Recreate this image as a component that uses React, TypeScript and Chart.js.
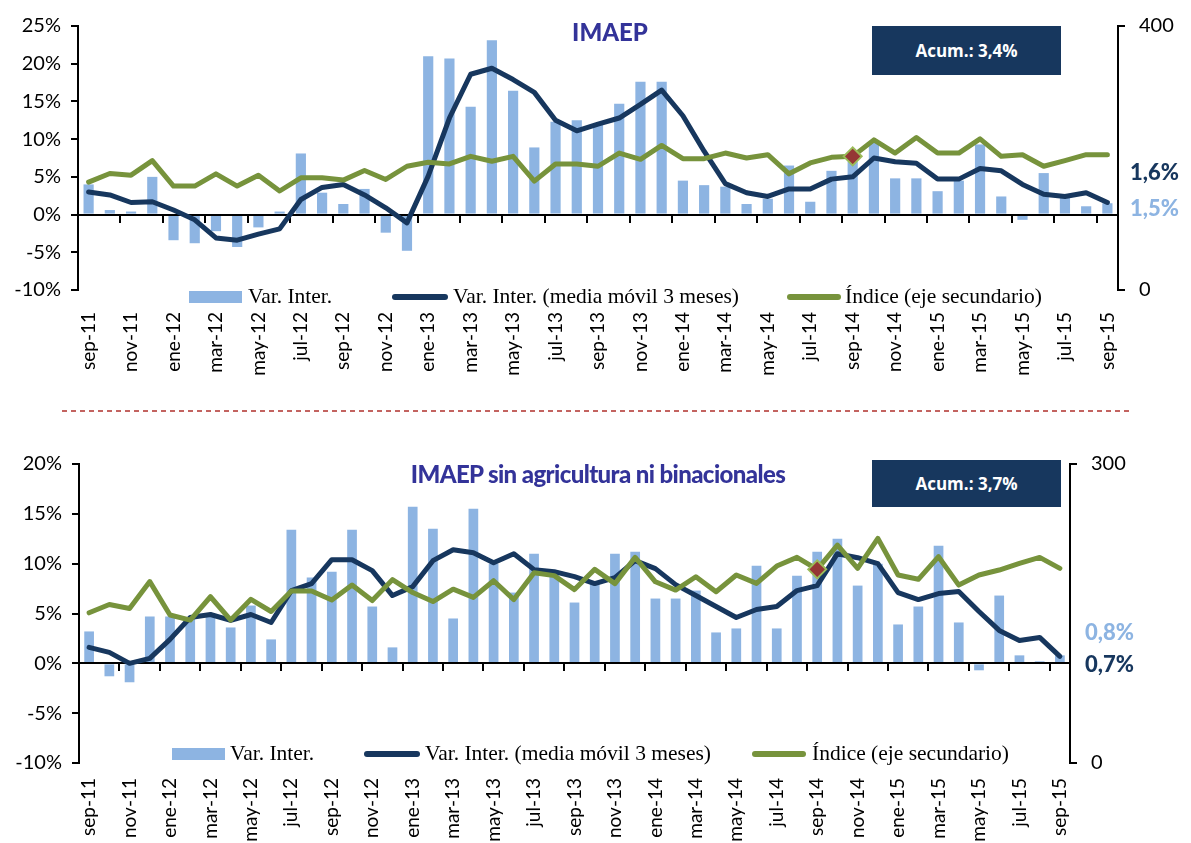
import React, { useEffect, useRef } from "react";
import { Chart, registerables } from "chart.js";
Chart.register(...registerables);

// ---------- DATA ----------
const months = [
  "sep-11","oct-11","nov-11","dic-11",
  "ene-12","feb-12","mar-12","abr-12","may-12","jun-12","jul-12","ago-12","sep-12","oct-12","nov-12","dic-12",
  "ene-13","feb-13","mar-13","abr-13","may-13","jun-13","jul-13","ago-13","sep-13","oct-13","nov-13","dic-13",
  "ene-14","feb-14","mar-14","abr-14","may-14","jun-14","jul-14","ago-14","sep-14","oct-14","nov-14","dic-14",
  "ene-15","feb-15","mar-15","abr-15","may-15","jun-15","jul-15","ago-15","sep-15",
];

// IMAEP
const imaepVar = [4.0,0.6,0.4,5.0,-3.4,-3.8,-2.2,-4.3,-1.7,0.4,8.1,2.9,1.4,3.4,-2.4,-4.8,21.0,20.7,14.3,23.1,16.4,8.9,12.3,12.5,12.0,14.7,17.6,17.6,4.5,3.9,3.7,1.4,2.1,6.5,1.7,5.8,7.0,9.6,4.8,4.8,3.1,4.5,9.3,2.4,-0.7,5.5,2.3,1.1,1.5];
const imaepMA = [3.0,2.6,1.6,1.7,0.6,-0.7,-3.1,-3.4,-2.6,-1.9,2.0,3.6,4.0,2.6,0.9,-1.1,5.1,12.8,18.6,19.4,17.9,16.2,12.5,11.1,12.0,12.8,14.6,16.5,13.1,8.4,4.1,2.9,2.4,3.4,3.4,4.7,5.0,7.5,7.0,6.8,4.7,4.7,6.1,5.8,4.0,2.7,2.4,2.9,1.6];
const imaepIdx = [163.5,176.5,174,196,157.5,157.5,176,157.5,174,150,170,170,166.5,181,167.5,187.5,193.5,191,202.5,195,202.5,165,191,191,187.5,207.5,198,219,199,199,207.5,200,205,176,192.5,201,202.5,227.5,207.5,231,207.5,207.5,229,202.5,205,187.5,196,205,205];

// IMAEP sin agricultura ni binacionales
const sinAgrVar = [3.2,-1.3,-1.9,4.7,4.7,4.6,4.7,3.6,5.8,2.4,13.4,8.6,9.2,13.4,5.7,1.6,15.7,13.5,4.5,15.5,10.0,7.1,11.0,9.2,6.1,8.0,11.0,11.2,6.5,6.5,7.3,3.1,3.5,9.8,3.5,8.8,11.2,12.5,7.8,10.0,3.9,5.7,11.8,4.1,-0.7,6.8,0.8,0.2,0.8];
const sinAgrMA = [1.6,1.1,0.0,0.5,2.4,4.6,4.9,4.3,4.9,4.1,7.3,8.0,10.4,10.4,9.3,6.8,7.7,10.3,11.4,11.1,10.1,11.0,9.4,9.2,8.7,8.0,8.6,10.3,9.5,7.9,6.8,5.7,4.6,5.4,5.7,7.3,7.8,11.0,10.6,10.0,7.1,6.4,7.0,7.2,5.2,3.3,2.3,2.6,0.7];
const sinAgrIdx = [150.7,159,155,182,148.5,143.4,166.8,143.4,164.2,152,172.6,172.6,163.5,178.5,163,184,171,162,174.4,166.2,182.9,164,190.9,188,174,194.3,180,206.3,181.8,173.5,186.9,171.8,188.6,180.2,197.6,206.3,194.3,218.7,195.3,225.4,188.6,184.3,207,178.5,188.6,193.6,200.3,206.3,195.3];

const highlightIndex = 36; // sep-14

const legendLabels = ["Var. Inter.", "Var. Inter. (media móvil 3 meses)", "Índice (eje secundario)"];

// ---------- STYLE ----------
const BAR = "#8db4e2";
const NAVY = "#17375e";
const GREEN = "#77933c";
const TITLE = "#333399";
const TICK_FONT = "Lato";

type Panel = {
  bars: number[];
  ma: number[];
  idx: number[];
  yMin: number;
  yMax: number;
  y2Max: number;
  height: number;
  padTop: number;
  leftW: number;
  rightW: number;
  xH: number;
  xPad: number;
};

function buildChart(canvas: HTMLCanvasElement, p: Panel) {
  const n = months.length;
  const axisPlugin = {
    id: "zeroAxis",
    afterDatasetDraw(chart: any, args: any) {
      if (args.index !== 0) return;
      const { ctx } = chart;
      const x = chart.scales.x;
      const y = chart.scales.y;
      const y0 = Math.round(y.getPixelForValue(0));
      ctx.save();
      ctx.strokeStyle = "#000";
      ctx.lineWidth = 2;
      ctx.beginPath();
      ctx.moveTo(x.left, y0);
      ctx.lineTo(x.right, y0);
      for (let k = 2; k < n; k += 2) {
        const px = Math.round(x.getPixelForValue(k - 0.5));
        ctx.moveTo(px, y0);
        ctx.lineTo(px, y0 + 8);
      }
      ctx.stroke();
      ctx.restore();
    },
  };

  return new Chart(canvas, {
    type: "bar",
    data: {
      labels: months,
      datasets: [
        {
          type: "bar",
          label: legendLabels[0],
          data: p.bars,
          backgroundColor: BAR,
          yAxisID: "y",
          order: 3,
          barPercentage: 0.48,
          categoryPercentage: 1,
        } as any,
        {
          type: "line",
          label: legendLabels[1],
          data: p.ma,
          borderColor: NAVY,
          borderWidth: 5,
          pointRadius: 0,
          tension: 0,
          borderJoinStyle: "round",
          borderCapStyle: "round",
          yAxisID: "y",
          order: 2,
        },
        {
          type: "line",
          label: legendLabels[2],
          data: p.idx,
          borderColor: GREEN,
          borderWidth: 5,
          tension: 0,
          borderJoinStyle: "round",
          borderCapStyle: "round",
          pointStyle: "rectRot",
          pointRadius: (c: any) => (c.dataIndex === highlightIndex ? 9 : 0),
          pointBackgroundColor: "#953735",
          pointBorderColor: "#9bbb59",
          pointBorderWidth: 2,
          yAxisID: "y2",
          order: 1,
        },
      ],
    },
    options: {
      responsive: false,
      animation: false,
      layout: { padding: { top: p.padTop, left: 0, right: 0, bottom: 0 } },
      plugins: { legend: { display: false }, tooltip: { enabled: false } },
      scales: {
        x: {
          type: "category",
          offset: true,
          grid: { display: false, drawTicks: false },
          border: { display: false },
          ticks: {
            autoSkip: false,
            maxRotation: 90,
            minRotation: 90,
            padding: p.xPad,
            color: "#000",
            font: { family: TICK_FONT, size: 19 },
            callback: (_v: any, i: number) => (i % 2 === 0 ? months[i] : ""),
          },
          afterFit: (s: any) => {
            s.height = p.xH;
          },
        },
        y: {
          position: "left",
          min: p.yMin,
          max: p.yMax,
          grid: { drawOnChartArea: false, drawTicks: true, tickLength: 7, color: "#000", lineWidth: 2 },
          border: { color: "#000", width: 2 },
          ticks: {
            stepSize: 5,
            padding: 10,
            color: "#000",
            font: { family: TICK_FONT, size: 20 },
            callback: (v: any) => v + "%",
          },
          afterFit: (s: any) => {
            s.width = p.leftW;
          },
        },
        y2: {
          position: "right",
          min: 0,
          max: p.y2Max,
          grid: { drawOnChartArea: false, drawTicks: true, tickLength: 7, color: "#000", lineWidth: 2 },
          border: { color: "#000", width: 2 },
          ticks: {
            stepSize: p.y2Max,
            padding: 14,
            color: "#000",
            font: { family: TICK_FONT, size: 20 },
          },
          afterFit: (s: any) => {
            s.width = p.rightW;
          },
        },
      },
    },
    plugins: [axisPlugin],
  } as any);
}

function ChartCanvas({ top, p }: { top: number; p: Panel }) {
  const ref = useRef<HTMLCanvasElement>(null);
  useEffect(() => {
    const c = buildChart(ref.current!, p);
    return () => c.destroy();
  }, []);
  return (
    <canvas
      ref={ref}
      width={1191}
      height={p.height}
      style={{ position: "absolute", left: 0, top, width: 1191, height: p.height, display: "block" }}
    />
  );
}

const abs = (x: number, cy: number, extra: React.CSSProperties = {}): React.CSSProperties => ({
  position: "absolute",
  left: x,
  top: cy,
  transform: "translateY(-50%)",
  whiteSpace: "nowrap",
  lineHeight: 1,
  ...extra,
});

function Legend({ cy, boxX, t1, l2, t2, l3, t3 }: { cy: number; boxX: number; t1: number; l2: number; t2: number; l3: number; t3: number }) {
  const txt: React.CSSProperties = { fontFamily: "'Liberation Serif', serif", fontSize: 21.5, color: "#000" };
  return (
    <>
      <div style={{ position: "absolute", left: boxX, top: cy - 6, width: 53, height: 12, background: BAR }} />
      <div style={abs(t1, cy, txt)}>{legendLabels[0]}</div>
      <div style={{ position: "absolute", left: l2, top: cy - 3, width: 56, height: 6, borderRadius: 3, background: NAVY }} />
      <div style={abs(t2, cy, txt)}>{legendLabels[1]}</div>
      <div style={{ position: "absolute", left: l3, top: cy - 3, width: 54, height: 6, borderRadius: 3, background: GREEN }} />
      <div style={abs(t3, cy, txt)}>{legendLabels[2]}</div>
    </>
  );
}

export default function App() {
  const topPanel: Panel = {
    bars: imaepVar, ma: imaepMA, idx: imaepIdx,
    yMin: -10, yMax: 25, y2Max: 400,
    height: 400, padTop: 23, leftW: 78, rightW: 1191 - 1118, xH: 110, xPad: 22,
  };
  const botPanel: Panel = {
    bars: sinAgrVar, ma: sinAgrMA, idx: sinAgrIdx,
    yMin: -10, yMax: 20, y2Max: 300,
    height: 423, padTop: 44, leftW: 79, rightW: 1191 - 1070, xH: 80, xPad: 15,
  };
  const titleStyle: React.CSSProperties = { fontFamily: "Lato", fontWeight: 900, fontSize: 24, color: TITLE };
  const boxStyle: React.CSSProperties = {
    position: "absolute", background: NAVY, color: "#fff", fontFamily: "'Open Sans'", fontWeight: 700, fontSize: 17,
    display: "flex", alignItems: "center", justifyContent: "center",
  };
  const endLbl: React.CSSProperties = { fontFamily: "Lato", fontWeight: 900, fontSize: 22 };
  return (
    <div style={{ position: "absolute", left: 0, top: 0, width: 1191, height: 843, background: "#fff", overflow: "hidden" }}>
      <ChartCanvas top={0} p={topPanel} />
      <ChartCanvas top={420} p={botPanel} />

      {/* top panel texts */}
      <div style={{ ...abs(610, 32, titleStyle), transform: "translate(-50%,-50%)" }}>IMAEP</div>
      <div style={{ ...boxStyle, left: 872, top: 26, width: 189, height: 49 }}>Acum.: 3,4%</div>
      <div style={abs(1130, 172, { ...endLbl, color: NAVY })}>1,6%</div>
      <div style={abs(1130, 208, { ...endLbl, color: BAR })}>1,5%</div>
      <Legend cy={297} boxX={189} t1={248} l2={392} t2={453} l3={787} t3={845} />

      {/* separator */}
      <svg style={{ position: "absolute", left: 0, top: 405 }} width={1191} height={12}>
        <line x1={62} y1={6} x2={1130} y2={6} stroke="#b0302c" strokeWidth={1.5} strokeDasharray="5 4" />
      </svg>

      {/* bottom panel texts */}
      <div style={{ ...abs(598, 474, { ...titleStyle, letterSpacing: -0.6 }), transform: "translate(-50%,-50%)" }}>
        IMAEP sin agricultura ni binacionales
      </div>
      <div style={{ ...boxStyle, left: 872, top: 460, width: 189, height: 47 }}>Acum.: 3,7%</div>
      <div style={abs(1085, 632, { ...endLbl, color: BAR })}>0,8%</div>
      <div style={abs(1085, 664, { ...endLbl, color: NAVY })}>0,7%</div>
      <Legend cy={754} boxX={172} t1={230} l2={364} t2={425} l3={752} t3={812} />
    </div>
  );
}
